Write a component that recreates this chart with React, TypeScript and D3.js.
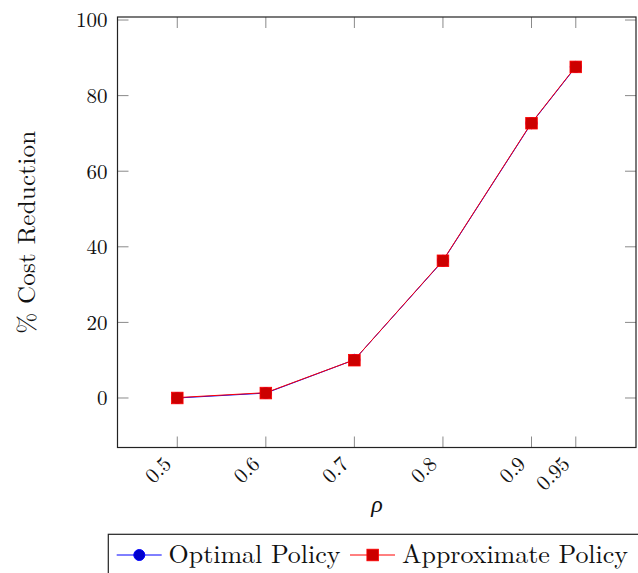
import React from "react";
import * as d3 from "d3";

// Load levels (rho) and the cost reduction (%) achieved by each policy
const rhoValues = [0.5, 0.6, 0.7, 0.8, 0.9, 0.95];
const rhoTickLabels = ["0.5", "0.6", "0.7", "0.8", "0.9", "0.95"];
const optimalPolicy = [0, 1.3, 10.1, 36.3, 72.7, 87.6];
const approximatePolicy = [0, 1.3, 10.0, 36.3, 72.7, 87.6];
const yTickValues = [0, 20, 40, 60, 80, 100];
const legendLabels = ["Optimal Policy", "Approximate Policy"];

const W = 638;
const H = 573;
const plot = { left: 117.5, right: 636, top: 17, bottom: 447.5 };
const FONT = "'Latin Modern Roman', 'CMU Serif', 'Liberation Serif', serif";

export default function App() {
  const x = d3.scaleLinear().domain([0.4325, 1.018]).range([plot.left, plot.right]);
  const y = d3.scaleLinear().domain([-13.1, 100.8]).range([plot.bottom, plot.top]);

  const line = d3
    .line<number>()
    .x((_, i) => x(rhoValues[i]))
    .y((d) => y(d));

  const tickLen = 11;
  const tickColor = "#8a8a8a";

  return (
    <svg
      width={W}
      height={H}
      style={{ position: "absolute", left: 0, top: 0, display: "block", background: "#fff" }}
      fontFamily={FONT}
    >
      {/* ticks on all four sides, pointing inward */}
      {rhoValues.map((v, i) => (
        <g key={"xt" + i} stroke={tickColor} strokeWidth={1}>
          <line x1={x(v)} x2={x(v)} y1={plot.bottom} y2={plot.bottom - tickLen} />
          <line x1={x(v)} x2={x(v)} y1={plot.top} y2={plot.top + tickLen} />
        </g>
      ))}
      {yTickValues.map((v) => (
        <g key={"yt" + v} stroke={tickColor} strokeWidth={1}>
          <line x1={plot.left} x2={plot.left + tickLen} y1={y(v)} y2={y(v)} />
          <line x1={plot.right} x2={plot.right - tickLen} y1={y(v)} y2={y(v)} />
        </g>
      ))}

      {/* axis frame */}
      <rect
        x={plot.left}
        y={plot.top}
        width={plot.right - plot.left}
        height={plot.bottom - plot.top}
        fill="none"
        stroke="#222"
        strokeWidth={1.2}
      />

      {/* y tick labels */}
      {yTickValues.map((v) => (
        <text
          key={"yl" + v}
          x={plot.left - 10}
          y={y(v)}
          dy="0.35em"
          textAnchor="end"
          fontSize={21}
          fill="#111"
        >
          {v}
        </text>
      ))}

      {/* x tick labels, rotated */}
      {rhoValues.map((v, i) => (
        <text
          key={"xl" + i}
          transform={`translate(${x(v) - 10},${plot.bottom + 12.5}) rotate(-45)`}
          textAnchor="end"
          dy="0.35em"
          fontSize={21}
          fill="#111"
        >
          {rhoTickLabels[i]}
        </text>
      ))}

      {/* axis titles */}
      <text x={377} y={512} textAnchor="middle" fontSize={24} fontStyle="italic" fill="#111">
        ρ
      </text>
      <text
        transform={`translate(35,${(plot.top + plot.bottom) / 2}) rotate(-90)`}
        textAnchor="middle"
        fontSize={25}
        textLength={203}
        lengthAdjust="spacing"
        fill="#111"
      >
        % Cost Reduction
      </text>

      {/* series: optimal (blue, circles) beneath approximate (red, squares) */}
      <path d={line(optimalPolicy) || ""} fill="none" stroke="#0000ff" strokeWidth={1} />
      {optimalPolicy.map((v, i) => (
        <circle key={"oc" + i} cx={x(rhoValues[i])} cy={y(v)} r={5.5} fill="#0000cc" stroke="#0000ff" />
      ))}
      <path d={line(approximatePolicy) || ""} fill="none" stroke="#ff0000" strokeWidth={1} transform="translate(0,-0.4)" />
      {approximatePolicy.map((v, i) => (
        <rect
          key={"as" + i}
          x={x(rhoValues[i]) - 5.8}
          y={y(v) - 5.8}
          width={11.6}
          height={11.6}
          fill="#cc0000"
          stroke="#ff0000"
          strokeWidth={0.8}
        />
      ))}

      {/* legend */}
      <rect x={108.3} y={534.3} width={540} height={60} fill="#fff" stroke="#222" strokeWidth={1.2} />
      <line x1={116.7} x2={161.7} y1={555} y2={555} stroke="#0000ff" strokeWidth={1} />
      <circle cx={139.3} cy={555} r={5.5} fill="#0000cc" stroke="#0000ff" />
      <text x={168.5} y={563} fontSize={26} textLength={172} lengthAdjust="spacing" fill="#111">
        {legendLabels[0]}
      </text>
      <line x1={350} x2={395} y1={555} y2={555} stroke="#ff0000" strokeWidth={1} />
      <rect x={372.7 - 5.8} y={555 - 5.8} width={11.6} height={11.6} fill="#cc0000" stroke="#ff0000" strokeWidth={0.8} />
      <text x={402} y={563} fontSize={26} textLength={226} lengthAdjust="spacing" fill="#111">
        {legendLabels[1]}
      </text>
    </svg>
  );
}
